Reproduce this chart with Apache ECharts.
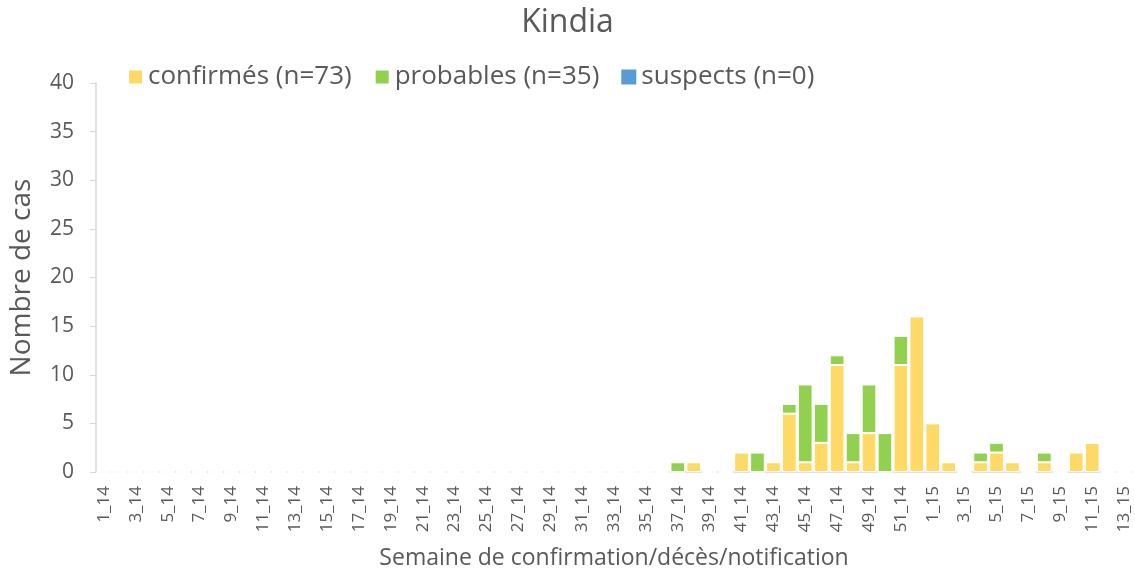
<!DOCTYPE html>
<html>
<head>
<meta charset="utf-8">
<script src="https://cdn.jsdelivr.net/npm/echarts@6/dist/echarts.min.js"></script>
<style>
  html, body { margin: 0; padding: 0; background: #fff; }
  #chart { width: 1135px; height: 571px; }
</style>
</head>
<body>
<div id="chart"></div>
<script>
// semaines 1_14 .. 52_14 puis 1_15 .. 13_15
var weeks = [];
for (var i = 1; i <= 52; i++) weeks.push(i + '_14');
for (var j = 1; j <= 13; j++) weeks.push(j + '_15');

// valeurs lues semaine 37_14 -> 13_15, zéro avant
var confirmedTail = [0, 1, 0, 0, 2, 0, 1, 6, 1, 3, 11, 1, 4, 0, 11, 16,
                     5, 1, 0, 1, 2, 1, 0, 1, 0, 2, 3, 0, 0];
var probableTail  = [1, 0, 0, 0, 0, 2, 0, 1, 8, 4, 1, 3, 5, 4, 3, 0,
                     0, 0, 0, 1, 1, 0, 0, 1, 0, 0, 0, 0, 0];
var leading = new Array(36).fill(0);
var confirmed = leading.concat(confirmedTail);
var probable = leading.concat(probableTail);
var suspect = new Array(weeks.length).fill(0);

var seriesNames = ['confirmés (n=73)', 'probables (n=35)', 'suspects (n=0)'];
var colors = ['#FFD966', '#92D050', '#5B9BD5'];

var chart = echarts.init(document.getElementById('chart'));
var font = '"Open Sans", "Noto Sans", sans-serif';

chart.setOption({
    animation: false,
    textStyle: { fontFamily: font },
    title: {
        text: 'Kindia',
        left: 'center',
        top: 2,
        textStyle: { fontFamily: font, fontSize: 32, fontWeight: 'normal', color: '#595959' }
    },
    legend: {
        left: 122,
        top: 59,
        itemWidth: 15,
        itemHeight: 15,
        itemGap: 22,
        icon: 'rect',
        textStyle: { fontFamily: font, fontSize: 26, color: '#595959' },
        data: seriesNames
    },
    grid: { left: 96, right: 3, top: 83, bottom: 99, outerBoundsMode: 'none' },
    xAxis: {
        type: 'category',
        data: weeks,
        name: 'Semaine de confirmation/décès/notification',
        nameLocation: 'middle',
        nameGap: 75,
        nameTextStyle: { fontFamily: font, fontSize: 23, color: '#595959' },
        axisLine: { lineStyle: { color: '#D9D9D9', width: 1.5 } },
        axisTick: { show: false },
        axisLabel: { interval: 1, rotate: 90, fontSize: 17, color: '#595959', margin: 14 }
    },
    yAxis: {
        type: 'value',
        min: 0,
        max: 40,
        interval: 5,
        name: 'Nombre de cas',
        nameLocation: 'middle',
        nameGap: 60,
        nameTextStyle: { fontFamily: font, fontSize: 28, color: '#595959' },
        axisLine: { show: true, lineStyle: { color: '#D9D9D9', width: 1.5 } },
        axisTick: { show: true, inside: false, length: 6, lineStyle: { color: '#D9D9D9' } },
        splitLine: { show: false },
        axisLabel: { fontSize: 21, color: '#595959', margin: 22 }
    },
    series: [
        {
            name: seriesNames[0], type: 'bar', stack: 'cas', data: confirmed,
            barCategoryGap: '8%',
            itemStyle: { color: colors[0], borderColor: '#ffffff', borderWidth: 1 }
        },
        {
            name: seriesNames[1], type: 'bar', stack: 'cas', data: probable,
            itemStyle: { color: colors[1], borderColor: '#ffffff', borderWidth: 1 }
        },
        {
            name: seriesNames[2], type: 'bar', stack: 'cas', data: suspect,
            itemStyle: { color: colors[2], borderWidth: 0 }
        }
    ]
});
</script>
</body>
</html>
